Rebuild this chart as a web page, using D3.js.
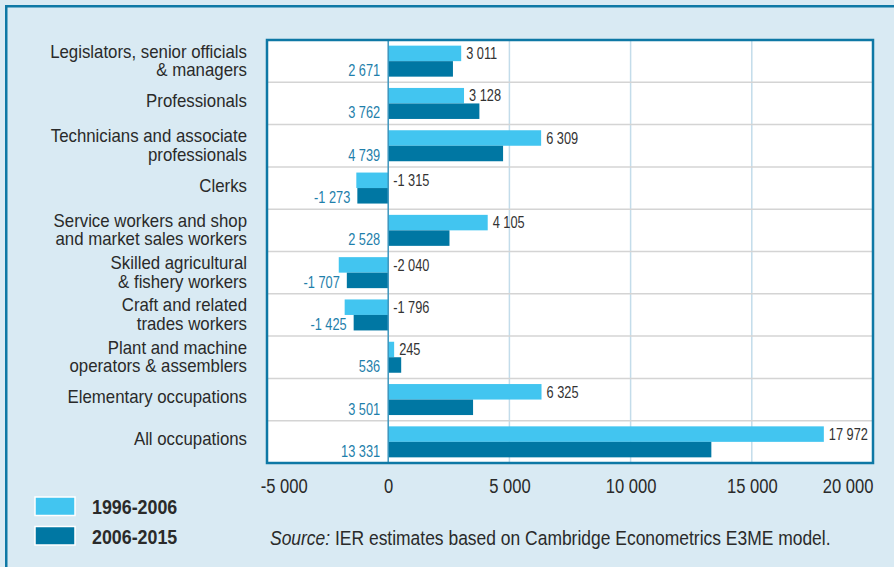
<!DOCTYPE html>
<html>
<head>
<meta charset="utf-8">
<script src="https://cdn.jsdelivr.net/npm/d3@7"></script>
<style>
  body { margin: 0; background: #d9eaf3; }
  svg text { font-family: "Liberation Sans", Arial, sans-serif; }
</style>
</head>
<body>
<div id="chart"></div>
<script>
// occupations, top to bottom (labels split over lines)
var categories = [
  ["Legislators, senior officials", "& managers"],
  ["Professionals"],
  ["Technicians and associate", "professionals"],
  ["Clerks"],
  ["Service workers and shop", "and market sales workers"],
  ["Skilled agricultural", "& fishery workers"],
  ["Craft and related", "trades workers"],
  ["Plant and machine", "operators & assemblers"],
  ["Elementary occupations"],
  ["All occupations"]
];
var series1996 = [3011, 3128, 6309, -1315, 4105, -2040, -1796, 245, 6325, 17972];
var series2006 = [2671, 3762, 4739, -1273, 2528, -1707, -1425, 536, 3501, 13331];
var seriesNames = ["1996-2006", "2006-2015"];
var xTicks = [-5000, 0, 5000, 10000, 15000, 20000];

var width = 894, height = 567;
var plotL = 267, plotR = 873, plotT = 40, plotB = 463;
var light = "#42c5f0", dark = "#0077a3", frame = "#0e78a5";
var squeeze = 0.8; // the original face is a condensed one

function fmt(v) {
  return d3.format(",")(v).replace(/,/g, " ").replace("−", "-");
}

var svg = d3.select("#chart").append("svg")
  .attr("width", width)
  .attr("height", height);

// outer frame (top and left only)
svg.append("rect").attr("width", width).attr("height", height).attr("fill", "#d9eaf3");
svg.append("rect").attr("x", 5).attr("y", 5).attr("width", width - 5).attr("height", 2.5).attr("fill", frame);
svg.append("rect").attr("x", 5).attr("y", 5).attr("width", 2.5).attr("height", height - 5).attr("fill", frame);

var x = d3.scaleLinear().domain([-5000, 20000]).range([plotL, plotR]);
var y = d3.scaleBand().domain(d3.range(categories.length)).range([plotT, plotB]);
var barH = 15.5;
var pad = (y.bandwidth() - 2 * barH) / 2;

var plot = svg.append("g");
plot.append("rect")
  .attr("x", plotL).attr("y", plotT)
  .attr("width", plotR - plotL).attr("height", plotB - plotT)
  .attr("fill", "white");

// vertical grid
plot.selectAll(".vgrid")
  .data(xTicks.filter(function(d) { return d > 0 && d < 20000; }))
  .enter().append("line")
  .attr("x1", function(d) { return x(d); })
  .attr("x2", function(d) { return x(d); })
  .attr("y1", plotT).attr("y2", plotB)
  .attr("stroke", "#c3dcea").attr("stroke-width", 1.5);

// row separators
plot.selectAll(".hgrid")
  .data(d3.range(1, categories.length))
  .enter().append("line")
  .attr("x1", plotL).attr("x2", plotR)
  .attr("y1", function(i) { return y(i); })
  .attr("y2", function(i) { return y(i); })
  .attr("stroke", "#d4d4d4").attr("stroke-width", 1.5);

// bars
plot.selectAll(".b1")
  .data(series1996)
  .enter().append("rect")
  .attr("x", function(d) { return x(Math.min(0, d)); })
  .attr("y", function(d, i) { return y(i) + pad; })
  .attr("width", function(d) { return Math.abs(x(d) - x(0)); })
  .attr("height", barH)
  .attr("fill", light);

plot.selectAll(".b2")
  .data(series2006)
  .enter().append("rect")
  .attr("x", function(d) { return x(Math.min(0, d)); })
  .attr("y", function(d, i) { return y(i) + pad + barH; })
  .attr("width", function(d) { return Math.abs(x(d) - x(0)); })
  .attr("height", barH)
  .attr("fill", dark);

// zero line
plot.append("line")
  .attr("x1", x(0)).attr("x2", x(0))
  .attr("y1", plotT).attr("y2", plotB)
  .attr("stroke", "#3d95bd").attr("stroke-width", 1.5);

// plot border
plot.append("rect")
  .attr("x", plotL).attr("y", plotT)
  .attr("width", plotR - plotL).attr("height", plotB - plotT)
  .attr("fill", "none").attr("stroke", frame).attr("stroke-width", 2.5);

// value labels 1996-2006
plot.selectAll(".l1")
  .data(series1996)
  .enter().append("g")
  .attr("transform", function(d, i) {
    var lx = d > 0 ? x(d) + 5 : x(0) + 5;
    return "translate(" + lx + "," + (y(i) + pad + barH / 2) + ") scale(" + squeeze + ",1)";
  })
  .append("text")
  .attr("dy", "0.36em")
  .attr("font-size", 16)
  .attr("fill", "#333")
  .text(fmt);

// value labels 2006-2015
plot.selectAll(".l2")
  .data(series2006)
  .enter().append("g")
  .attr("transform", function(d, i) {
    var lx = d > 0 ? x(0) - 8 : x(d) - 7;
    return "translate(" + lx + "," + (y(i) + pad + barH * 1.5 + 1.5) + ") scale(" + squeeze + ",1)";
  })
  .append("text")
  .attr("dy", "0.36em")
  .attr("text-anchor", "end")
  .attr("font-size", 16)
  .attr("fill", "#1f7fab")
  .text(fmt);

// category labels
var cat = svg.selectAll(".cat")
  .data(categories)
  .enter().append("text")
  .attr("text-anchor", "end")
  .attr("font-size", 18)
  .attr("fill", "#2a2a2a")
  .attr("transform", function(d, i) {
    var cy = y(i) + y.bandwidth() / 2 - (d.length - 1) * 9 - (d.length === 1 ? 3 : 1);
    return "translate(247," + cy + ") scale(0.935,1)";
  });
cat.selectAll("tspan")
  .data(function(d) { return d; })
  .enter().append("tspan")
  .attr("x", 0)
  .attr("y", function(d, j) { return j * 18.5; })
  .attr("dy", "0.36em")
  .text(function(d) { return d; });

// x axis
var axis = svg.append("g")
  .attr("transform", "translate(0," + plotB + ")")
  .call(d3.axisBottom(x).tickValues(xTicks).tickSize(0).tickPadding(16).tickFormat(fmt));
axis.select(".domain").remove();
axis.selectAll("text")
  .attr("font-size", 19.5)
  .attr("font-family", null)
  .attr("fill", "#2a2a2a")
  .attr("transform", "scale(0.85,1)");
axis.selectAll(".tick").filter(function(d) { return d === -5000; })
  .select("text").attr("text-anchor", "start").attr("dx", -8);
axis.selectAll(".tick").filter(function(d) { return d === 20000; })
  .select("text").attr("text-anchor", "end");

// legend
var legend = svg.selectAll(".leg")
  .data(seriesNames)
  .enter().append("g")
  .attr("transform", function(d, i) { return "translate(35," + (497 + i * 29.5) + ")"; });
legend.append("rect")
  .attr("width", 40).attr("height", 18.5)
  .attr("fill", function(d, i) { return i === 0 ? light : dark; })
  .attr("stroke", "white").attr("stroke-width", 1.5);
legend.append("g")
  .attr("transform", "translate(57,9.5) scale(0.85,1)")
  .append("text")
  .attr("dy", "0.36em")
  .attr("font-size", 21).attr("font-weight", "bold")
  .attr("fill", "#2a2a2a")
  .text(function(d) { return d; });

// source note
var src = svg.append("g")
  .attr("transform", "translate(270,538) scale(0.895,1)")
  .append("text")
  .attr("dy", "0.36em")
  .attr("font-size", 19.5).attr("fill", "#2a2a2a");
src.append("tspan").attr("font-style", "italic").text("Source:");
src.append("tspan").text(" IER estimates based on Cambridge Econometrics E3ME model.");
</script>
</body>
</html>
